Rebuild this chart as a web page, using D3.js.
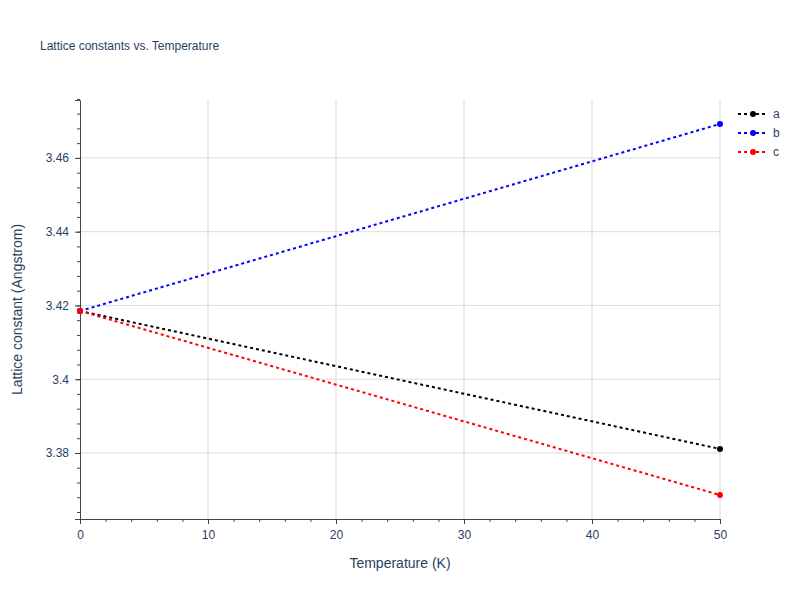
<!DOCTYPE html>
<meta charset="utf-8">
<html>
<body style="margin:0">
<svg width="800" height="600"></svg>
<script src="https://d3js.org/d3.v7.min.js"></script>
<script>
var temps = [0, 50];
var seriesA = [3.4185, 3.3811];
var seriesB = [3.4185, 3.4692];
var seriesC = [3.4185, 3.3686];
var series = [
  {name: "a", values: seriesA, color: "black"},
  {name: "b", values: seriesB, color: "blue"},
  {name: "c", values: seriesC, color: "red"}
];
var xTicks = [0, 10, 20, 30, 40, 50];
var yTicks = [3.38, 3.40, 3.42, 3.44, 3.46];

var svg = d3.select("svg"),
    margin = {top: 100, right: 80, bottom: 81, left: 80},
    width = 800 - margin.left - margin.right,
    height = 600 - margin.top - margin.bottom,
    g = svg.append("g").attr("transform", "translate(" + margin.left + "," + margin.top + ")");
var font = "'Liberation Sans', arial, sans-serif";

var x = d3.scaleLinear().domain([0, 50]).range([0, width]);
var y = d3.scaleLinear().domain([3.3621, 3.4757]).range([height, 0]);

// grid
g.selectAll(".gx").data(xTicks.slice(1)).enter().append("line")
    .attr("x1", x).attr("x2", x).attr("y1", 0).attr("y2", height)
    .attr("stroke", "#e4e4e4").attr("stroke-width", 1.5);
g.selectAll(".gy").data(yTicks).enter().append("line")
    .attr("y1", y).attr("y2", y).attr("x1", 0).attr("x2", width)
    .attr("stroke", "#dcdcdc");

// axes
var xAxis = g.append("g").attr("transform", "translate(0," + height + ")")
    .call(d3.axisBottom(x).tickValues(xTicks).tickSize(5).tickPadding(6).tickFormat(d3.format("d")));
var xMinor = g.append("g").attr("transform", "translate(0," + height + ")")
    .call(d3.axisBottom(x).tickValues(d3.range(0, 51, 2)).tickSize(3).tickFormat(""));
var yAxis = g.append("g")
    .call(d3.axisLeft(y).tickValues(yTicks).tickSize(5).tickPadding(6).tickFormat(function(d) { return +d.toFixed(2); }));
var yMinor = g.append("g")
    .call(d3.axisLeft(y).tickValues(d3.range(3.364, 3.476, 0.004)).tickSize(3).tickFormat(""));
[xAxis, xMinor, yAxis, yMinor].forEach(function(a) {
  a.select(".domain").attr("stroke", "#444");
  a.selectAll("line").attr("stroke", "#444");
  a.selectAll("text").attr("fill", "#2a3f5f").style("font-family", font).style("font-size", "12px");
});
xMinor.select(".domain").remove();
yMinor.select(".domain").remove();

// lines
var line = d3.line().x(function(d, i) { return x(temps[i]); }).y(function(d) { return y(d); });
series.forEach(function(s) {
  g.append("path").datum(s.values)
      .attr("fill", "none").attr("stroke", s.color).attr("stroke-width", 2)
      .attr("stroke-dasharray", "3,3").attr("d", line);
  g.selectAll(null).data(s.values).enter().append("circle")
      .attr("cx", function(d, i) { return x(temps[i]); }).attr("cy", y)
      .attr("r", 3).attr("fill", s.color);
});

// titles
svg.append("text").attr("x", 40).attr("y", 50).text("Lattice constants vs. Temperature")
    .attr("fill", "#2a3f5f").style("font-family", font).style("font-size", "12px");
svg.append("text").attr("x", 80 + width / 2).attr("y", 568).attr("text-anchor", "middle")
    .text("Temperature (K)").attr("fill", "#2a3f5f").style("font-family", font).style("font-size", "14px");
svg.append("text").attr("transform", "translate(22," + (margin.top + height / 2) + ") rotate(-90)")
    .attr("text-anchor", "middle").text("Lattice constant (Angstrom)")
    .attr("fill", "#2a3f5f").style("font-family", font).style("font-size", "14px");

// legend
var leg = svg.selectAll(".leg").data(series).enter().append("g")
    .attr("transform", function(d, i) { return "translate(738," + (114 + i * 19) + ")"; });
leg.append("line").attr("x1", 0).attr("x2", 30).attr("stroke", function(d) { return d.color; })
    .attr("stroke-width", 2).attr("stroke-dasharray", "3,3");
leg.append("circle").attr("cx", 15).attr("r", 3).attr("fill", function(d) { return d.color; });
leg.append("text").attr("x", 35).attr("dy", "0.35em").text(function(d) { return d.name; })
    .attr("fill", "#2a3f5f").style("font-family", font).style("font-size", "12px");
</script>
</body>
</html>
